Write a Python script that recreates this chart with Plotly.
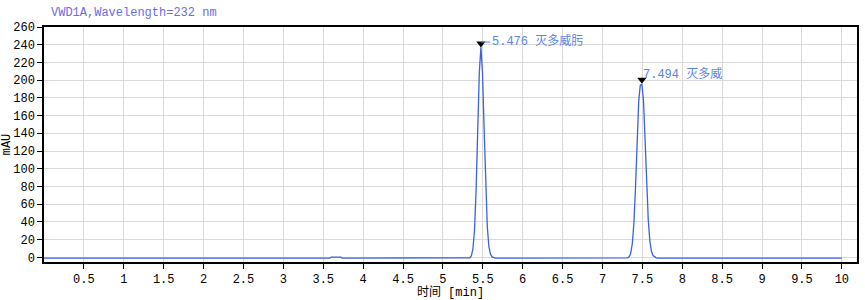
import plotly.graph_objects as go

# Chromatogram trace (time in min, signal in mAU)
time_min = [0.0, 3.58, 3.60, 3.72, 3.74,
            5.296, 5.316, 5.336, 5.356, 5.376, 5.396, 5.416, 5.436, 5.456, 5.476,
            5.496, 5.516, 5.536, 5.556, 5.576, 5.596, 5.616, 5.636, 5.656, 5.70,
            7.274, 7.294, 7.314, 7.334, 7.354, 7.374, 7.394, 7.414, 7.434, 7.454, 7.474, 7.494,
            7.514, 7.534, 7.554, 7.574, 7.594, 7.614, 7.634, 7.654, 7.674, 7.694, 7.714, 7.76,
            10.0]
signal_mau = [-1.0, -1.0, 0.2, 0.2, -1.0,
              -1.0, -0.9, -0.5, 1.6, 9.4, 31, 76, 143, 208, 237,
              209, 146, 80, 35, 12, 3.5, 0.5, -0.5, -0.9, -1.0,
              -1.0, -0.9, -0.6, 0.5, 4.6, 15.6, 39, 79, 130, 176, 194.5, 195,
              177, 132, 82, 42, 18, 6.5, 2.0, 0.2, -0.6, -0.9, -1.0, -1.0,
              -1.0]

peak_times = [5.476, 7.494]
peak_marker_y = [241.5, 200.5]
peak_labels = ["5.476 灭多威肟", "7.494 灭多威"]
label_x = [5.595, 7.485]
label_y = [244, 206]

x_tickvals = [0.5, 1, 1.5, 2, 2.5, 3, 3.5, 4, 4.5, 5, 5.5, 6, 6.5, 7, 7.5, 8, 8.5, 9, 9.5, 10]
x_ticktext = ["0.5", "1", "1.5", "2", "2.5", "3", "3.5", "4", "4.5", "5", "5.5", "6",
              "6.5", "7", "7.5", "8", "8.5", "9", "9.5", "10"]
y_tickvals = list(range(0, 261, 20))

FONT = "Liberation Mono, Noto Sans CJK SC, monospace"

fig = go.Figure()
fig.add_trace(go.Scatter(x=time_min, y=signal_mau, mode="lines",
                         line=dict(color="#3d62dc", width=1.3), hoverinfo="skip",
                         showlegend=False))
fig.add_trace(go.Scatter(x=peak_times, y=peak_marker_y, mode="markers",
                         marker=dict(symbol="triangle-down", size=8, color="black"),
                         showlegend=False, hoverinfo="skip"))

# leader line for first peak label
fig.add_shape(type="line", x0=peak_times[0], x1=label_x[0], y0=label_y[0] - 1, y1=label_y[0] - 1,
              line=dict(color="#5b84e6", width=1))

for lx, ly, txt in zip(label_x, label_y, peak_labels):
    fig.add_annotation(x=lx, y=ly, text=txt, showarrow=False, xanchor="left", yanchor="middle",
                       font=dict(family=FONT, size=12, color="#5b84e6"))

fig.add_annotation(x=(49 - 44) / (857 - 44), y=1 + (27 - 13) / (262 - 27),
                   xref="paper", yref="paper", text="VWD1A,Wavelength=232 nm",
                   showarrow=False, xanchor="left", yanchor="middle",
                   font=dict(family=FONT, size=12, color="#6c6ee0"))

fig.update_layout(
    width=865, height=300,
    margin=dict(l=44, r=8, t=27, b=38, autoexpand=False),
    plot_bgcolor="white", paper_bgcolor="white",
    font=dict(family=FONT, size=12, color="black"),
    xaxis=dict(range=[0, 10.19], tickvals=x_tickvals, ticktext=x_ticktext,
               showgrid=True, gridcolor="#d9d9d9", gridwidth=1,
               showline=True, linecolor="black", linewidth=1.5, mirror=True,
               ticks="outside", ticklen=5, tickcolor="black", zeroline=False,
               automargin=False,
               title=dict(text="时间 [min]", standoff=4, font=dict(size=12))),
    yaxis=dict(range=[-5.3, 260], tickvals=y_tickvals,
               showgrid=True, gridcolor="#d9d9d9", gridwidth=1,
               showline=True, linecolor="black", linewidth=1.5, mirror=True,
               ticks="outside", ticklen=5, tickcolor="black", zeroline=False,
               automargin=False,
               title=dict(text="mAU", standoff=2, font=dict(size=12))),
)

fig.write_html("out.html")
